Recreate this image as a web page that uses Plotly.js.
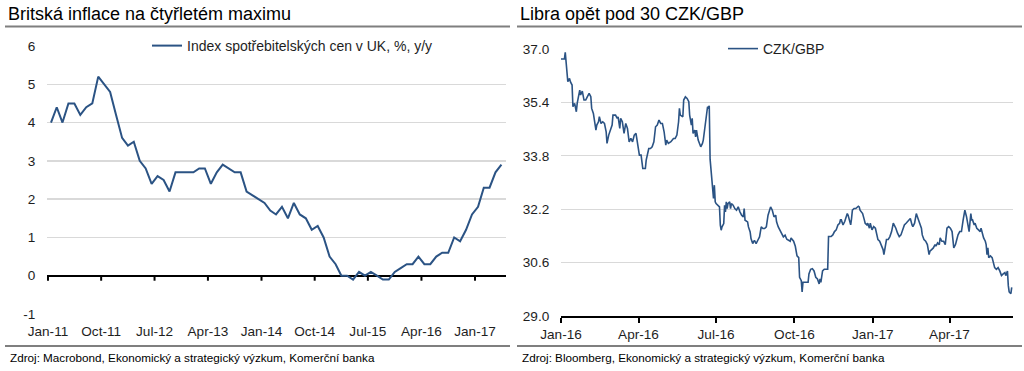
<!DOCTYPE html>
<html><head><meta charset="utf-8">
<script src="https://cdn.plot.ly/plotly-3.0.1.min.js"></script>
<style>
html,body{margin:0;padding:0;background:#fff;}
#wrap{position:relative;width:1024px;height:371px;overflow:hidden;}
#left,#right{position:absolute;top:0;width:512px;height:371px;}
#left{left:0;} #right{left:512px;}
</style></head><body>
<div id="wrap"><div id="left"></div><div id="right"></div></div>
<script>
// ---------- DATA: UK CPI, % y/y (monthly) ----------
const cpiMonths = [
 '2011-01','2011-02','2011-03','2011-04','2011-05','2011-06','2011-07','2011-08','2011-09','2011-10','2011-11','2011-12',
 '2012-01','2012-02','2012-03','2012-04','2012-05','2012-06','2012-07','2012-08','2012-09','2012-10','2012-11','2012-12',
 '2013-01','2013-02','2013-03','2013-04','2013-05','2013-06','2013-07','2013-08','2013-09','2013-10','2013-11','2013-12',
 '2014-01','2014-02','2014-03','2014-04','2014-05','2014-06','2014-07','2014-08','2014-09','2014-10','2014-11','2014-12',
 '2015-01','2015-02','2015-03','2015-04','2015-05','2015-06','2015-07','2015-08','2015-09','2015-10','2015-11','2015-12',
 '2016-01','2016-02','2016-03','2016-04','2016-05','2016-06','2016-07','2016-08','2016-09','2016-10','2016-11','2016-12',
 '2017-01','2017-02','2017-03','2017-04','2017-05'
];
const cpiValues = [
 4.0,4.4,4.0,4.5,4.5,4.2,4.4,4.5,5.2,5.0,4.8,4.2,
 3.6,3.4,3.5,3.0,2.8,2.4,2.6,2.5,2.2,2.7,2.7,2.7,
 2.7,2.8,2.8,2.4,2.7,2.9,2.8,2.7,2.7,2.2,2.1,2.0,
 1.9,1.7,1.6,1.8,1.5,1.9,1.6,1.5,1.2,1.3,1.0,0.5,
 0.3,0.0,0.0,-0.1,0.1,0.0,0.1,0.0,-0.1,-0.1,0.1,0.2,
 0.3,0.3,0.5,0.3,0.3,0.5,0.6,0.6,1.0,0.9,1.2,1.6,
 1.8,2.3,2.3,2.7,2.9
];
const cpiName = 'Index spotřebitelských cen v UK, %, y/y';
const leftTickDates = ['2011-01-01','2011-10-01','2012-07-01','2013-04-01','2014-01-01','2014-10-01','2015-07-01','2016-04-01','2017-01-01'];
const leftTickLabels = ['Jan-11','Oct-11','Jul-12','Apr-13','Jan-14','Oct-14','Jul-15','Apr-16','Jan-17'];
const leftYTicks = [-1,0,1,2,3,4,5,6];
const leftYLabels = ['-1','0','1','2','3','4','5','6'];

// ---------- DATA: CZK/GBP ----------
const fxDates = [
 '2016-01-01','2016-01-05','2016-01-06','2016-01-07','2016-01-09','2016-01-11','2016-01-12','2016-01-14','2016-01-15','2016-01-17','2016-01-19','2016-01-20','2016-01-22','2016-01-23','2016-01-24','2016-01-26','2016-01-28','2016-01-30',
 '2016-02-01','2016-02-03','2016-02-05','2016-02-06','2016-02-08','2016-02-10','2016-02-11','2016-02-12','2016-02-14','2016-02-15','2016-02-17','2016-02-19','2016-02-21','2016-02-23','2016-02-24','2016-02-26','2016-02-28',
 '2016-03-01','2016-03-02','2016-03-05','2016-03-07','2016-03-08','2016-03-10','2016-03-11','2016-03-13','2016-03-15','2016-03-17','2016-03-19','2016-03-21','2016-03-23','2016-03-25','2016-03-27','2016-03-29','2016-03-31',
 '2016-04-02','2016-04-04','2016-04-06','2016-04-09','2016-04-10','2016-04-13','2016-04-15','2016-04-17','2016-04-19','2016-04-21','2016-04-23','2016-04-25','2016-04-27','2016-04-29',
 '2016-05-01','2016-05-03','2016-05-04','2016-05-06','2016-05-09','2016-05-12','2016-05-14','2016-05-16','2016-05-18','2016-05-19','2016-05-20','2016-05-23','2016-05-24','2016-05-26','2016-05-28','2016-05-30','2016-05-31',
 '2016-06-02','2016-06-03','2016-06-04','2016-06-06','2016-06-07','2016-06-08','2016-06-10','2016-06-12','2016-06-13','2016-06-15','2016-06-16','2016-06-18','2016-06-20','2016-06-21','2016-06-22','2016-06-23','2016-06-24','2016-06-25','2016-06-27','2016-06-28','2016-06-29','2016-06-30',
 '2016-07-01','2016-07-03','2016-07-05','2016-07-06','2016-07-07','2016-07-08','2016-07-10','2016-07-11','2016-07-12','2016-07-13','2016-07-14','2016-07-15','2016-07-17','2016-07-18','2016-07-19','2016-07-21','2016-07-23','2016-07-25','2016-07-27','2016-07-29','2016-07-31',
 '2016-08-02','2016-08-03','2016-08-04','2016-08-07','2016-08-08','2016-08-10','2016-08-11','2016-08-13','2016-08-15','2016-08-17','2016-08-19','2016-08-21','2016-08-23','2016-08-25','2016-08-27','2016-08-29','2016-08-31',
 '2016-09-02','2016-09-03','2016-09-05','2016-09-07','2016-09-09','2016-09-10','2016-09-12','2016-09-14','2016-09-16','2016-09-18','2016-09-20','2016-09-22','2016-09-26','2016-09-27','2016-09-30',
 '2016-10-02','2016-10-04','2016-10-06','2016-10-07','2016-10-09','2016-10-10','2016-10-11','2016-10-14','2016-10-17','2016-10-18','2016-10-20','2016-10-22','2016-10-24','2016-10-26','2016-10-28','2016-10-30','2016-10-31',
 '2016-11-01','2016-11-03','2016-11-05','2016-11-07','2016-11-09','2016-11-10','2016-11-13','2016-11-15','2016-11-17','2016-11-19','2016-11-21','2016-11-23','2016-11-24','2016-11-25','2016-11-27','2016-11-29',
 '2016-12-01','2016-12-02','2016-12-03','2016-12-06','2016-12-07','2016-12-08','2016-12-10','2016-12-12','2016-12-15','2016-12-16','2016-12-17','2016-12-19','2016-12-20','2016-12-22','2016-12-23','2016-12-25','2016-12-26','2016-12-28','2016-12-29','2016-12-31',
 '2017-01-02','2017-01-04','2017-01-05','2017-01-07','2017-01-09','2017-01-11','2017-01-13','2017-01-14','2017-01-16','2017-01-17','2017-01-19','2017-01-21','2017-01-23','2017-01-25','2017-01-26','2017-01-28','2017-01-30',
 '2017-02-01','2017-02-03','2017-02-05','2017-02-07','2017-02-09','2017-02-12','2017-02-14','2017-02-16','2017-02-17','2017-02-19','2017-02-21','2017-02-23','2017-02-24','2017-02-25','2017-02-27','2017-02-28',
 '2017-03-02','2017-03-04','2017-03-06','2017-03-08','2017-03-09','2017-03-11','2017-03-13','2017-03-15','2017-03-16','2017-03-18','2017-03-20','2017-03-21','2017-03-23','2017-03-25','2017-03-27','2017-03-29','2017-03-31',
 '2017-04-02','2017-04-04','2017-04-06','2017-04-08','2017-04-09','2017-04-11','2017-04-13','2017-04-15','2017-04-17','2017-04-18','2017-04-19','2017-04-21','2017-04-23','2017-04-24','2017-04-26','2017-04-27','2017-04-28','2017-04-30',
 '2017-05-01','2017-05-03','2017-05-05','2017-05-07','2017-05-08','2017-05-10','2017-05-11','2017-05-13','2017-05-14','2017-05-15','2017-05-16','2017-05-17','2017-05-19','2017-05-21','2017-05-22','2017-05-24','2017-05-26','2017-05-28','2017-05-30',
 '2017-06-01','2017-06-03','2017-06-05','2017-06-06','2017-06-08','2017-06-09','2017-06-10','2017-06-12','2017-06-13'
];
const fxValues = [
 36.70,36.70,36.90,36.52,36.02,36.12,36.02,35.92,35.27,35.37,35.12,35.37,35.67,35.77,35.62,35.74,35.47,35.47,
 35.57,35.67,35.57,35.22,35.07,34.72,34.57,34.72,34.82,34.97,34.77,34.82,34.77,34.52,34.17,34.42,34.57,
 34.72,35.02,35.02,34.92,34.97,34.62,34.92,34.82,34.47,34.77,34.62,34.22,34.32,34.22,34.42,34.47,34.12,
 33.82,33.82,33.42,33.42,33.67,34.02,34.02,34.07,34.22,34.67,34.72,34.87,34.77,34.77,
 34.52,34.12,34.27,34.17,34.22,34.32,34.32,34.42,34.82,35.22,35.02,34.97,35.47,35.57,35.52,35.42,35.02,
 34.72,34.92,34.47,34.57,34.37,34.57,34.27,34.12,34.07,34.17,34.27,34.67,35.12,35.27,35.24,35.30,33.70,33.42,33.02,32.52,32.92,32.42,
 32.37,32.32,32.27,31.72,31.57,31.67,31.77,32.32,32.12,32.42,32.22,32.37,32.42,32.22,32.37,32.32,32.22,32.17,32.27,32.12,32.02,
 31.97,32.22,31.87,31.82,31.67,31.52,31.32,31.17,31.27,31.17,31.27,31.37,31.67,31.62,31.62,31.67,32.02,
 32.22,32.27,32.17,31.97,32.02,31.82,31.67,31.57,31.47,31.37,31.42,31.30,31.24,31.34,31.24,
 31.09,30.80,30.75,30.16,30.06,29.72,30.01,30.01,30.01,30.26,30.40,30.42,30.35,30.16,30.11,29.96,30.11,
 30.01,30.35,30.40,30.40,30.40,31.38,31.38,31.43,31.53,31.58,31.73,31.78,31.88,31.88,31.73,31.83,
 31.97,32.07,32.02,31.73,31.92,32.17,32.22,32.22,32.29,32.27,32.17,32.12,32.07,31.88,31.78,31.73,31.78,31.63,31.78,31.58,
 31.68,31.63,31.48,31.29,31.24,31.14,30.99,30.84,31.14,31.29,31.29,31.38,31.53,31.78,31.73,31.63,31.48,
 31.38,31.43,31.58,31.73,31.78,31.88,31.92,31.73,31.68,31.78,32.07,31.92,31.83,31.78,31.63,31.43,
 31.29,31.24,31.14,30.84,30.94,30.99,31.04,31.14,31.09,31.19,31.14,31.34,31.24,31.24,31.14,31.63,31.68,
 31.63,31.53,31.04,31.14,31.24,31.43,31.53,31.53,31.88,32.12,32.17,31.97,31.63,31.53,32.07,31.88,31.88,31.73,
 31.78,31.63,31.58,31.53,31.63,31.43,31.34,31.24,31.14,30.84,31.04,30.75,30.80,30.75,30.65,30.45,30.40,30.45,30.35,
 30.21,30.26,30.30,30.21,30.35,29.91,29.72,29.67,29.86
];
const fxName = 'CZK/GBP';
const rightTickDates = ['2016-01-01','2016-04-01','2016-07-01','2016-10-01','2017-01-01','2017-04-01'];
const rightTickLabels = ['Jan-16','Apr-16','Jul-16','Oct-16','Jan-17','Apr-17'];
const rightYTicks = [29.0,30.6,32.2,33.8,35.4,37.0];

// ---------- STYLE ----------
const FONT = '"Liberation Sans", Arial, sans-serif';
const LINE = '#2b5384';
const GRID = '#d9d9d9';
const TXT = '#1e1e1e';
const RULE = '#7f7f7f';
const TICKFONT = 13.6;

function pxMap(W, H, m) {
  const w = W - m.l - m.r, h = H - m.t - m.b;
  return { x: p => (p - m.l) / w, y: p => (H - m.b - p) / h };
}
function frame(px, W, title, source, gapL, gapR, gapY) {
  return {
    shapes: [
      {type:'rect', xref:'paper', yref:'paper', x0:px.x(gapL), x1:px.x(gapR), y0:px.y(gapY+4), y1:px.y(gapY-4), fillcolor:'#fff', line:{width:0}, layer:'above'},
      {type:'line', xref:'paper', yref:'paper', x0:px.x(5), x1:px.x(W-2), y0:px.y(26.5), y1:px.y(26.5), line:{color:RULE, width:2}},
      {type:'line', xref:'paper', yref:'paper', x0:px.x(5), x1:px.x(W-2), y0:px.y(346), y1:px.y(346), line:{color:RULE, width:2}}
    ],
    annotations: [
      {xref:'paper', yref:'paper', x:px.x(8), y:px.y(357), xanchor:'left', yanchor:'middle', text:source, showarrow:false, font:{size:11.7, color:'#000', family:FONT}}
    ],
    title: {text:title, font:{size:18, color:'#000', family:FONT}, xref:'container', yref:'container', x:8/W, xanchor:'left', y:1-14/371, yanchor:'middle'}
  };
}

// ---------- LEFT CHART ----------
const mL = {l:47, r:6, t:46, b:57};
const pL = pxMap(512, 371, mL);
const fL = frame(pL, 512, 'Britská inflace na čtyřletém maximu', 'Zdroj: Macrobond, Ekonomický a strategický výzkum, Komerční banka', 120, 457, 46);
// tick marks sitting on the zero line (axis ticks drawn at y = 0)
const zeroTicks = leftTickDates.map(d => ({type:'line', xref:'x', yref:'y', x0:d, x1:d, ysizemode:'pixel', yanchor:0, y0:0, y1:-5,
  line:{color:'#000', width:2}}));
Plotly.newPlot('left', [
  {x:cpiMonths, y:cpiValues, xperiod:'M1', xperiodalignment:'middle', type:'scatter', mode:'lines', name:cpiName,
   line:{color:LINE, width:2}}
], {
  width:512, height:371, margin:Object.assign({pad:0}, mL),
  paper_bgcolor:'#fff', plot_bgcolor:'#fff',
  font:{family:FONT, size:TICKFONT, color:TXT},
  title: fL.title, shapes: fL.shapes.concat(zeroTicks), annotations: fL.annotations,
  showlegend:true,
  legend:{x:pL.x(147), xanchor:'left', y:1, yanchor:'middle', bgcolor:'rgba(0,0,0,0)', borderwidth:0, font:{size:14, color:TXT, family:FONT}},
  xaxis:{type:'date', range:['2010-12-27', '2017-06-09'], tickmode:'array', tickvals:leftTickDates, ticktext:leftTickLabels,
         showgrid:false, zeroline:false, showline:false, ticks:'outside', ticklen:5, tickcolor:'rgba(0,0,0,0)', fixedrange:true},
  yaxis:{range:[-1,6], tickmode:'array', tickvals:leftYTicks, ticktext:leftYLabels, showgrid:true, gridcolor:GRID, gridwidth:1.3,
         zeroline:true, zerolinecolor:'#000', zerolinewidth:2, showline:false,
         ticks:'outside', ticklen:8, tickcolor:'rgba(0,0,0,0)', fixedrange:true}
}, {displayModeBar:false, staticPlot:true});

// ---------- RIGHT CHART ----------
const mR = {l:49, r:11, t:49, b:55};
const pR = pxMap(512, 371, mR);
const fR = frame(pR, 512, 'Libra opět pod 30 CZK/GBP', 'Zdroj: Bloomberg, Ekonomický a strategický výzkum, Komerční banka', 182, 330, 49);
Plotly.newPlot('right', [
  {x:fxDates, y:fxValues, type:'scatter', mode:'lines', name:fxName, line:{color:LINE, width:1.6}}
], {
  width:512, height:371, margin:Object.assign({pad:0}, mR),
  paper_bgcolor:'#fff', plot_bgcolor:'#fff',
  font:{family:FONT, size:TICKFONT, color:TXT},
  title: fR.title, shapes: fR.shapes, annotations: fR.annotations,
  showlegend:true,
  legend:{x:pR.x(211), xanchor:'left', y:1, yanchor:'middle', bgcolor:'rgba(0,0,0,0)', borderwidth:0, font:{size:14, color:TXT, family:FONT}},
  xaxis:{type:'date', range:['2016-01-01','2017-06-14 12:00'], tickmode:'array', tickvals:rightTickDates, ticktext:rightTickLabels,
         showgrid:false, zeroline:false, showline:true, linecolor:'#000', linewidth:2, ticks:'outside', ticklen:5, tickwidth:2, tickcolor:'#000', fixedrange:true},
  yaxis:{range:[29,37], tickmode:'array', tickvals:rightYTicks, tickformat:'.1f', showgrid:true, gridcolor:GRID, gridwidth:1.3, zeroline:false, showline:false,
         ticks:'outside', ticklen:8, tickcolor:'rgba(0,0,0,0)', fixedrange:true}
}, {displayModeBar:false, staticPlot:true});
</script>
</body></html>
